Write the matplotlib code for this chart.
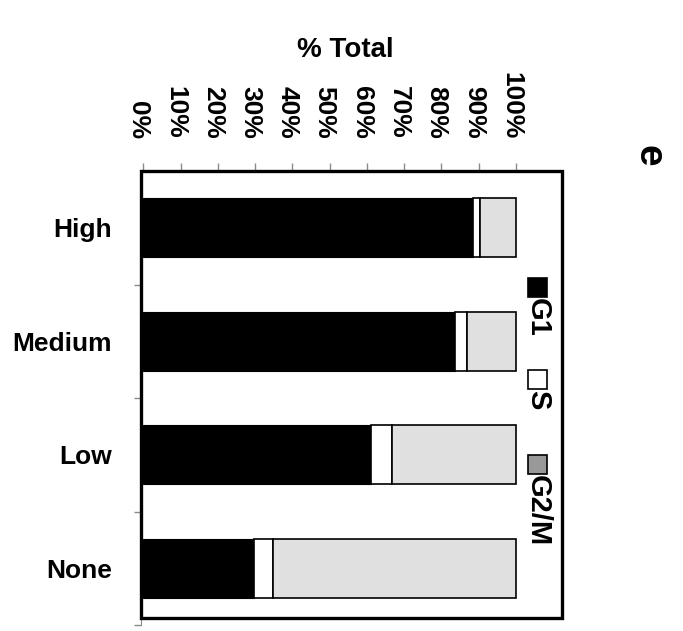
import numpy as np
import matplotlib
matplotlib.use("Agg")
import matplotlib.pyplot as plt
from matplotlib.patches import Rectangle
from matplotlib.ticker import FixedLocator, PercentFormatter
from matplotlib.transforms import ScaledTranslation

plt.rcParams['font.family'] = ['Liberation Sans Narrow', 'Liberation Sans', 'DejaVu Sans']
plt.rcParams['font.weight'] = 'bold'

# data (percent of total)
categories = ['High', 'Medium', 'Low', 'None']
g1 = [88.5, 83.6, 61.0, 29.6]
s_phase = [1.8, 3.2, 5.8, 5.1]
g2m = [100 - a - b for a, b in zip(g1, s_phase)]
xticks = list(range(0, 101, 10))

W, H = 683, 631
fig = plt.figure(figsize=(W / 100, H / 100), dpi=100)

# axes in pixel layout
left, right, top, bottom = 141, 562, 171, 625
ax = fig.add_axes([left / W, (H - bottom) / H, (right - left) / W, (bottom - top) / H])

y = np.arange(len(categories))
bh = 0.52
ax.barh(y, g1, height=bh, color='black', edgecolor='black', linewidth=0.8)
ax.barh(y, s_phase, left=g1, height=bh, color='white', edgecolor='black', linewidth=1.2)
ax.barh(y, g2m, left=np.array(g1) + np.array(s_phase), height=bh,
        color='#e0e0e0', edgecolor='black', linewidth=1.2)

px = 3.727  # pixels per percent
x0 = -(143.3 - left) / px
ax.set_xlim(x0, x0 + (right - left) / px)
ax.set_ylim(3.5, -0.5)

# top axis with rotated percent labels
ax.xaxis.tick_top()
ax.set_xticks(xticks)
ax.xaxis.set_major_formatter(PercentFormatter(decimals=0))
ax.tick_params(axis='x', direction='out', length=6, width=1, color='#8a8a8a',
               pad=17, labelsize=19, rotation=-90)
shift = ScaledTranslation(-5 / 100, 0, fig.dpi_scale_trans)
for lab in ax.get_xticklabels():
    lab.set_transform(lab.get_transform() + shift)

# category labels + boundary ticks
ax.set_yticks(y)
ax.set_yticklabels(categories, fontsize=19)
ax.tick_params(axis='y', which='major', length=0, pad=21)
ax.yaxis.set_minor_locator(FixedLocator([0.5, 1.5, 2.5, 3.5]))
ax.tick_params(axis='y', which='minor', direction='out', length=5, width=1, color='#8a8a8a')

for side in ['right', 'bottom']:
    ax.spines[side].set_visible(False)
ax.spines['left'].set_color('#8a8a8a')
ax.spines['top'].set_color('#8a8a8a')

# black chart frame
fb = 618
fig.patches.append(Rectangle((left / W, (H - fb) / H), (right - left) / W, (fb - top) / H,
                             transform=fig.transFigure, fill=False, edgecolor='black',
                             linewidth=2.4, zorder=10))

# title
fig.text(345 / W, 1 - 50 / H, '% Total', ha='center', va='center', fontsize=20)

# legend (rotated)
legend_items = [('G1', 'black', 278), ('S', 'white', 370), ('G2/M', '#999999', 455)]
for name, col, ytop in legend_items:
    fig.patches.append(Rectangle((528 / W, 1 - (ytop + 19) / H), 19 / W, 19 / H,
                                 transform=fig.transFigure, facecolor=col,
                                 edgecolor='black', linewidth=1.2, zorder=11))
    fig.text(538 / W, 1 - (ytop + 20) / H, name, rotation=-90, ha='center', va='top',
             fontsize=21)

# panel letter
fig.text(649 / W, 1 - 156 / H, 'e', rotation=-90, ha='center', va='center', fontsize=28)

fig.savefig('out.png', dpi=100)
